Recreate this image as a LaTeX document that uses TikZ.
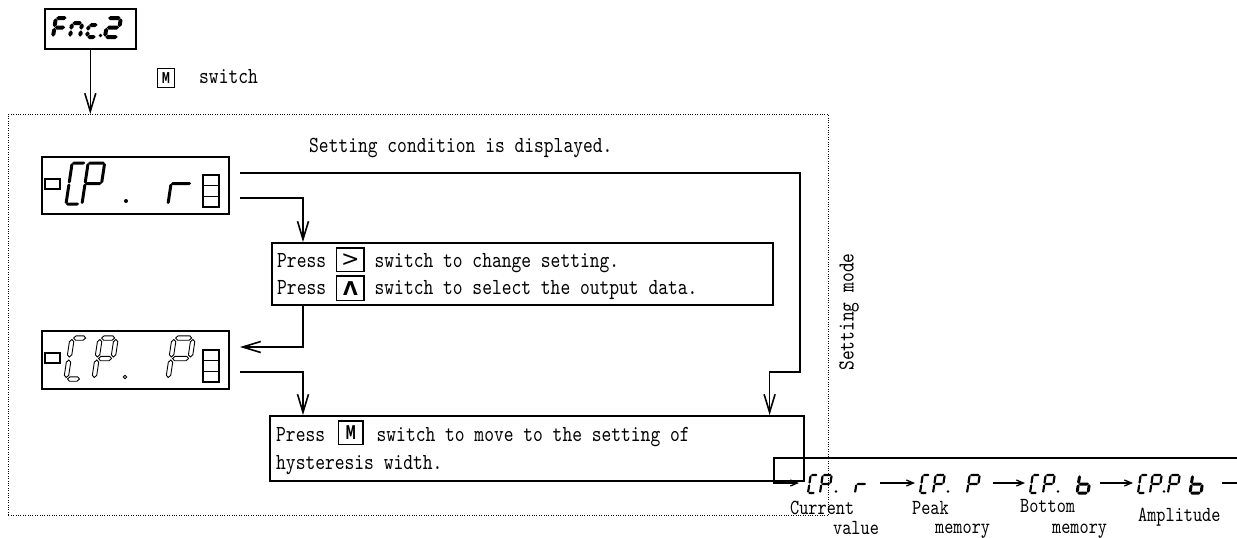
\documentclass[tikz,border=0pt]{standalone}
\usepackage{fontspec}
\setmainfont{lmmono10-regular.otf}[FakeStretch=0.81]
\newfontfamily\keyfont{DejaVu Sans}
\newfontfamily\keyfontnarrow{DejaVu Sans}[FakeStretch=0.55]
\usetikzlibrary{arrows.meta,calc}

% framed key symbol: [depth below baseline]{outer width}{outer height}{glyph}
\newcommand\kbox[4][4pt]{%
  \raisebox{-#1}{\setlength\fboxsep{0pt}\setlength\fboxrule{1.4pt}%
  \fbox{\parbox[b][\dimexpr#3-2.8pt\relax][c]{\dimexpr#2-2.8pt\relax}{\centering#4}}}}

% seven-segment glyphs: hexagonal bars
\newcommand\hseg[4]{\path[#1] (#2,#4) -- (#2+\sT,#4+\sT) -- (#3-\sT,#4+\sT) -- (#3,#4) -- (#3-\sT,#4-\sT) -- (#2+\sT,#4-\sT) -- cycle;}
\newcommand\vseg[4]{\path[#1] (#2,#3) -- (#2+\sT,#3-\sT) -- (#2+\sT,#4+\sT) -- (#2,#4) -- (#2-\sT,#4+\sT) -- (#2-\sT,#3-\sT) -- cycle;}
\newcommand\SegA[1]{\hseg{#1}{\sG}{\sW-\sG}{\sH}}
\newcommand\SegB[1]{\vseg{#1}{\sW}{\sH-\sG}{\sH/2+\sG}}
\newcommand\SegC[1]{\vseg{#1}{\sW}{\sH/2-\sG}{\sG}}
\newcommand\SegD[1]{\hseg{#1}{\sG}{\sW-\sG}{0}}
\newcommand\SegE[1]{\vseg{#1}{0}{\sH/2-\sG}{\sG}}
\newcommand\SegF[1]{\vseg{#1}{0}{\sH-\sG}{\sH/2+\sG}}
\newcommand\SegG[1]{\hseg{#1}{\sG}{\sW-\sG}{\sH/2}}
% [style]{x,y of lower left}{width}{height}{half thickness}{gap}{segments}
\newcommand\segchar[7][segfill]{%
  \begin{scope}[shift={(#2)},x=1pt,y=1pt,xslant=0.15]
    \def\sW{#3}\def\sH{#4}\def\sT{#5}\def\sG{#6}%
    \foreach \s in {#7}{\csname Seg\s\endcsname{#1}}%
  \end{scope}}

\begin{document}
\begin{tikzpicture}[x=1pt,y=-1pt,line join=miter,
  segfill/.style={fill=black},
  seghollow/.style={draw=black,fill=white,line width=0.9pt},
  box/.style={draw,line width=1.6pt,inner sep=0pt,anchor=north west},
  modeframe/.style={draw,line width=0.9pt,dash pattern=on 1pt off 1.4pt,inner sep=0pt,anchor=north west},
  txt/.style={anchor=base west,inner sep=0pt,font=\fontsize{23}{27}\selectfont},
  label/.style={anchor=base west,inner sep=0pt,font=\fontsize{21.5}{25}\selectfont},
  lamp/.style={line width=1.5pt},
  bigarr/.style={-{Straight Barb[length=18pt,width=11pt]},line width=1.6pt},
  smallarr/.style={-{Straight Barb[length=7pt,width=6pt]},line width=1.3pt}]
\useasboundingbox (0,0) rectangle (1237,538);

% setting-mode frame
\node[modeframe,minimum width=820pt,minimum height=401pt] (frame) at (8,114) {};
\node[rotate=90,inner sep=0pt,font=\fontsize{23}{27}\selectfont] (mode) at (849,312) {Setting mode};

% function display Fnc.2
\node[box,minimum width=91pt,minimum height=40pt] (fnc) at (44,8) {};
\segchar{53,37}{11}{19}{2}{0.3}{A,E,F,G}
\segchar{70,37}{10}{14}{2}{0.3}{A,B,C,E,F}
\segchar{87,37}{9}{12}{2}{0.3}{A,D,E,F}
\fill (100.5,35.5) circle[radius=1.9pt];
\segchar{105,37}{13}{19}{2}{0.3}{A,B,G,E,D}
\draw[bigarr] (fnc.south) -- (fnc.south |- frame.north);

\node[inner sep=0pt] (mkey) at (166,78) {\kbox[0pt]{18pt}{20pt}{\keyfontnarrow\bfseries\fontsize{15}{15}\selectfont M}};
\node[txt] (mtxt) at (199,83) {switch};

\node[txt] (cond) at (309,152) {Setting condition is displayed.};

% display CP. r
\node[box,line width=1.5pt,minimum width=187pt,minimum height=57pt] (disp1) at (41,156) {};
\draw[lamp] (45,179) rectangle (60,189);
\draw[lamp] (203,175) rectangle (219,207) (203,185.7) -- (219,185.7) (203,196.3) -- (219,196.3);
\segchar{66,204}{13}{41}{1.5}{0}{A,D,E,F}
\segchar{82,204}{16.5}{41}{1.5}{0}{A,B,E,F,G}
\fill (126,201) circle[radius=2pt];
\segchar{168,204}{20}{41}{1.5}{0}{E,G}

% display CP. P
\node[box,line width=1.5pt,minimum width=187pt,minimum height=58pt] (disp2) at (41,330) {};
\draw[lamp] (45,353) rectangle (60,363);
\draw[lamp] (203,350) rectangle (219,382) (203,360.7) -- (219,360.7) (203,371.3) -- (219,371.3);
\segchar[seghollow]{66,379}{15}{41}{2.2}{1.5}{A,D,E,F}
\segchar[seghollow]{94,379}{16}{41}{2.2}{1.5}{A,B,E,F,G}
\draw[line width=0.9pt] (125,377) circle[radius=1.8pt];
\segchar[seghollow]{168,379}{19}{41}{2.2}{1.5}{A,B,E,F,G}

% instruction boxes
\node[box,minimum width=501pt,minimum height=62pt] (box1) at (271,242) {};
\node[txt] (b1l1) at (277,267) {Press \kbox[4pt]{29pt}{25pt}{\keyfont\fontsize{22}{22}\selectfont >} switch to change setting.};
\node[txt] (b1l2) at (277,294) {Press \kbox[6pt]{29pt}{26pt}{\keyfont\bfseries\fontsize{19}{19}\selectfont Λ} switch to select the output data.};

\node[box,minimum width=534pt,minimum height=65pt] (box2) at (269,415) {};
\node[txt] (b2l1) at (276,441) {Press \hspace{3pt}\kbox[3pt]{26pt}{25pt}{\keyfontnarrow\bfseries\fontsize{19}{19}\selectfont M}\hspace{3pt} switch to move to the setting of};
\node[txt] (b2l2) at (276,469) {hysteresis width.};

% flow between displays and boxes
\coordinate (d1hi) at (240,173);
\coordinate (d1lo) at (240,198);
\coordinate (d2in) at (240,347);
\coordinate (d2out) at (240,372);
\draw[bigarr] (d1hi) -| (800,372) -| ($(box2.north east)+(-35,0)$);
\draw[bigarr] (d1lo) -| ($(box1.north west)+(32,0)$);
\draw[bigarr] ($(box1.south west)+(32,0)$) |- (d2in);
\draw[bigarr] (d2out) -| ($(box2.north west)+(34,0)$);

% output data cycle
\coordinate (loopR) at (1237,458);
\coordinate (r1in) at (799,483);
\draw[smallarr] (loopR) -- (774,458) -- (774,483) -- (r1in);
\segchar{808,493}{7}{18}{1.1}{0.3}{A,D,E,F}
\segchar{820,493}{9}{18}{1.1}{0.3}{A,B,E,F,G}
\fill (836,491.5) circle[radius=1.3pt];
\segchar{855,493}{10}{18}{1.1}{0.3}{E,G}
\coordinate (r1out) at (880,483); \coordinate (p2in) at (915,483);
\draw[smallarr] (r1out) -- (p2in);
\segchar{920,493}{7}{18}{1.1}{0.3}{A,D,E,F}
\segchar{933,493}{9}{18}{1.1}{0.3}{A,B,E,F,G}
\fill (948,491.5) circle[radius=1.3pt];
\segchar{967,493}{10}{18}{1.1}{0.3}{A,B,E,F,G}
\coordinate (p2out) at (993,483); \coordinate (b3in) at (1025,483);
\draw[smallarr] (p2out) -- (b3in);
\segchar{1030,493}{7}{18}{1.1}{0.3}{A,D,E,F}
\segchar{1043,493}{9}{18}{1.1}{0.3}{A,B,E,F,G}
\fill (1058,491.5) circle[radius=1.3pt];
\segchar{1077,493}{11}{18}{1.5}{0.3}{C,D,E,F,G}
\coordinate (b3out) at (1100,483); \coordinate (a4in) at (1133,483);
\draw[smallarr] (b3out) -- (a4in);
\segchar{1138,493}{7}{18}{1.1}{0.3}{A,D,E,F}
\segchar{1150,493}{9}{18}{1.1}{0.3}{A,B,E,F,G}
\fill (1164,491.5) circle[radius=1.3pt];
\segchar{1168,493}{9}{18}{1.1}{0.3}{A,B,E,F,G}
\segchar{1190,493}{11}{18}{1.5}{0.3}{C,D,E,F,G}
\coordinate (a4out) at (1222,483); \coordinate (tailR) at (1237,483);
\draw[line width=1.3pt] (a4out) -- (tailR);

\node[label] (l1a) at (790,514) {Current};
\node[label] (l1b) at (833,534) {value};
\node[label] (l2a) at (912,514) {Peak};
\node[label] (l2b) at (935,533) {memory};
\node[label] (l3a) at (1020,512) {Bottom};
\node[label] (l3b) at (1052,533) {memory};
\node[label] (l4a) at (1138,521) {Amplitude};
\end{tikzpicture}
\end{document}
